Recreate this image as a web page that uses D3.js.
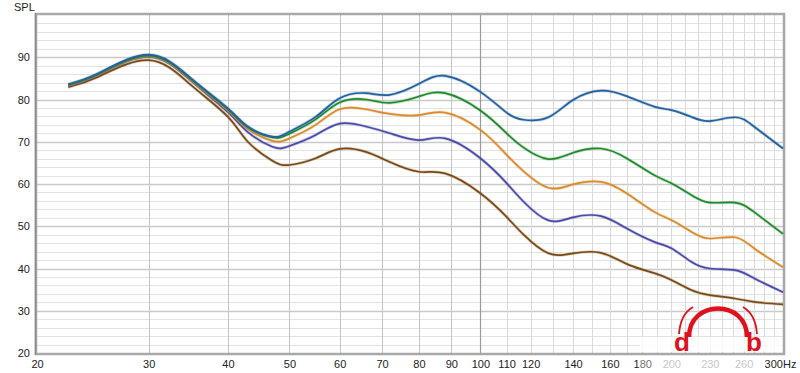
<!DOCTYPE html>
<html><head><meta charset="utf-8">
<script src="https://cdn.jsdelivr.net/npm/d3@7/dist/d3.min.js"></script>
<style>
html,body{margin:0;padding:0;background:#fff;}
svg{display:block;font-family:"Liberation Sans",Arial,sans-serif;}
</style></head>
<body><svg id="c" width="800" height="373"></svg>
<script>
// ---- data ----
const freqs = [22.4, 25, 30, 35, 40, 43, 47, 50, 55, 60, 66, 72, 80, 88, 100, 110, 117, 128, 140, 155, 170, 188, 200, 215, 230, 252, 270, 300];
const blue   = [83.6, 86.2, 90.6, 85.0, 77.9, 73.6, 71.2, 72.4, 75.9, 80.3, 81.5, 81.1, 83.7, 85.6, 81.8, 76.9, 75.2, 75.8, 79.9, 82.1, 80.8, 78.3, 77.5, 75.9, 74.9, 75.8, 73.6, 68.4];
const green  = [83.5, 86.1, 90.4, 84.8, 77.7, 73.4, 71.0, 71.9, 75.3, 79.3, 80.0, 79.2, 80.7, 81.5, 77.4, 72.0, 68.6, 65.9, 67.4, 68.4, 66.1, 62.1, 60.2, 57.4, 55.6, 55.6, 53.4, 48.2];
const orange = [83.4, 86.0, 90.2, 84.6, 77.4, 73.0, 70.2, 70.8, 74.0, 77.7, 77.7, 76.6, 76.3, 76.9, 72.8, 66.9, 63.0, 59.1, 59.9, 60.5, 57.8, 53.4, 51.5, 48.7, 47.1, 47.4, 44.8, 40.3];
const purple = [83.3, 85.9, 90.1, 84.4, 77.0, 72.3, 68.8, 69.0, 71.6, 74.3, 73.6, 72.0, 70.4, 70.8, 66.1, 60.2, 55.8, 51.4, 52.1, 52.4, 49.5, 46.3, 44.8, 41.6, 40.0, 39.6, 37.7, 34.4];
const brown  = [82.9, 85.4, 89.3, 83.4, 75.9, 70.0, 65.5, 64.5, 66.1, 68.3, 67.6, 65.2, 62.9, 62.5, 57.8, 52.2, 48.0, 43.6, 43.6, 43.7, 41.1, 38.9, 37.3, 34.9, 33.7, 32.9, 32.1, 31.5];
const seriesNames = ["brown", "purple", "orange", "green", "blue"];
const seriesValues = [brown, purple, orange, green, blue];
const seriesColors = ["#7a4a14", "#4a4aa8", "#d98b2e", "#1f8a2c", "#24619f"];
const yTicks = [20, 30, 40, 50, 60, 70, 80, 90];
const xTicks = [20, 30, 40, 50, 60, 70, 80, 90, 100, 110, 120, 140, 160, 180, 200, 230, 260, 300];
const xTickLabels = ["20","30","40","50","60","70","80","90","100","110","120","140","160","180","200","230","260","300Hz"];
const xMinorGrid = [110,120,130,140,150,160,170,180,190,200,210,220,230,240,250,260,270,280,290];
const xMidGrid = [30,40,50,60,70,80,90];

// ---- layout ----
const L = 37, R = 783, T = 15, B = 353;
const svg = d3.select("#c");
const x = d3.scaleLog().domain([20, 300]).range([L, R]);
const y = d3.scaleLinear().domain([20, 100]).range([B, T]);

svg.append("rect").attr("x", L).attr("y", T).attr("width", R - L).attr("height", B - T).attr("fill", "#fff");

// horizontal grid: minor every 2 dB, major every 10
const g = svg.append("g");
const minorY = d3.range(22, 100, 2).filter(v => v % 10 !== 0);
g.selectAll(".hm").data(minorY).join("line")
  .attr("x1", L).attr("x2", R).attr("y1", d => Math.round(y(d)) + 0.5).attr("y2", d => Math.round(y(d)) + 0.5)
  .attr("stroke", "#e3e3e3").attr("stroke-width", 1);
g.selectAll(".hM").data([30, 40, 50, 60, 70, 80, 90]).join("line")
  .attr("x1", L).attr("x2", R).attr("y1", d => Math.round(y(d)) + 0.5).attr("y2", d => Math.round(y(d)) + 0.5)
  .attr("stroke", "#c9c9c9").attr("stroke-width", 1.3);
// vertical grid
g.selectAll(".vm").data(xMinorGrid).join("line")
  .attr("x1", d => Math.round(x(d)) + 0.5).attr("x2", d => Math.round(x(d)) + 0.5).attr("y1", T).attr("y2", B)
  .attr("stroke", "#dadada").attr("stroke-width", 1);
g.selectAll(".vM").data(xMidGrid).join("line")
  .attr("x1", d => Math.round(x(d)) + 0.5).attr("x2", d => Math.round(x(d)) + 0.5).attr("y1", T).attr("y2", B)
  .attr("stroke", "#c4c4c4").attr("stroke-width", 1);
g.append("line").attr("x1", Math.round(x(100)) + 0.5).attr("x2", Math.round(x(100)) + 0.5).attr("y1", T).attr("y2", B)
  .attr("stroke", "#9a9a9a").attr("stroke-width", 1.2);

// frame
svg.append("rect").attr("x", L - 1).attr("y", T - 1).attr("width", R - L + 2).attr("height", B - T + 2)
  .attr("fill", "none").attr("stroke", "#a8a8a8").attr("stroke-width", 2.5);
svg.append("line").attr("x1", L - 1.5).attr("x2", L - 1.5).attr("y1", T - 2).attr("y2", B + 2).attr("stroke", "#8c8c8c").attr("stroke-width", 1.5);

// axes (labels only)
const yAxis = d3.axisLeft(y).tickValues(yTicks).tickSize(0).tickPadding(6);
const ya = svg.append("g").attr("transform", `translate(${L - 1},0)`).call(yAxis);
ya.select(".domain").remove();
ya.selectAll("text").attr("fill", "#222").attr("font-size", 11).attr("font-family", "Liberation Sans, Arial, sans-serif");

const xAxis = d3.axisBottom(x).tickValues(xTicks).tickSize(0).tickPadding(7)
  .tickFormat((d, i) => xTickLabels[i]);
const xa = svg.append("g").attr("transform", `translate(0,${B})`).call(xAxis);
xa.select(".domain").remove();
xa.selectAll("text").attr("fill", (d) => (d >= 200 && d < 300) ? "#aaa" : "#222")
  .attr("font-size", 11).attr("font-family", "Liberation Sans, Arial, sans-serif");
xa.selectAll("text").filter(d => d === 300).attr("dx", -3);

svg.append("text").attr("x", 14).attr("y", 11).attr("font-size", 11).attr("fill", "#222").text("SPL");

// series
const line = d3.line().x((d, i) => x(freqs[i])).y(d => y(d)).curve(d3.curveNatural);
const lg = svg.append("g");
seriesValues.forEach((vals, k) => {
  lg.append("path").attr("d", line(vals)).attr("fill", "none")
    .attr("stroke", seriesColors[k]).attr("stroke-opacity", 0.25).attr("stroke-width", 3.2);
  lg.append("path").attr("d", line(vals)).attr("fill", "none")
    .attr("stroke", seriesColors[k]).attr("stroke-width", 1.7).attr("class", seriesNames[k]);
});

// logo watermark
const lo = svg.append("g");
lo.append("rect").attr("x", 640).attr("y", 337).attr("width", 142).attr("height", 15).attr("fill", "#fff").attr("opacity", 0.8);
lo.append("rect").attr("x", 640).attr("y", 356).attr("width", 125).attr("height", 12).attr("fill", "#fff").attr("opacity", 0.35);
lo.append("path").attr("d", "M 689 337 C 689 299, 747 299, 747 337").attr("fill", "none").attr("stroke", "#e0101c").attr("stroke-width", 4.5);
lo.append("path").attr("d", "M 679 334 C 680 320, 686 311, 693 307").attr("fill", "none").attr("stroke", "#e0101c").attr("stroke-width", 1.8);
lo.append("path").attr("d", "M 757 334 C 756 320, 750 311, 743 307").attr("fill", "none").attr("stroke", "#e0101c").attr("stroke-width", 1.8);
lo.append("text").attr("x", 682).attr("y", 351).attr("text-anchor", "middle").attr("font-size", 26).attr("font-weight", "bold").attr("fill", "#e0101c").text("d");
lo.append("text").attr("x", 754).attr("y", 351).attr("text-anchor", "middle").attr("font-size", 26).attr("font-weight", "bold").attr("fill", "#e0101c").text("b");
</script>
</body></html>
